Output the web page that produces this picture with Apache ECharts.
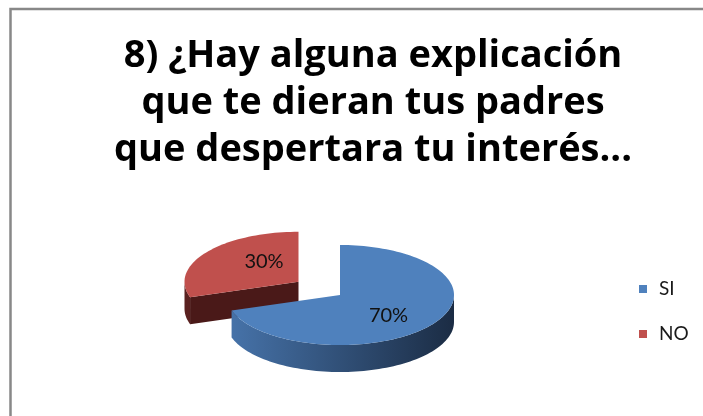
<!DOCTYPE html>
<html>
<head>
<meta charset="utf-8">
<script src="https://cdn.jsdelivr.net/npm/echarts@6/dist/echarts.min.js"></script>
<style>
html, body { margin: 0; padding: 0; background: #fff; }
#pie3d { width: 703px; height: 416px; }
</style>
</head>
<body>
<div id="pie3d"></div>
<script>
// answers and their shares (%)
var categories = ['SI', 'NO'];
var values = [70, 30];
var explode = [0, 0.45];

var topColors = ['#4f81bd', '#c0504d'];
var wallColors = [['#4774ab', '#1b2c44'], ['#5a2120', '#4a1918']];

var titleText = '8) ¿Hay alguna explicación\nque te dieran tus padres\nque despertara tu interés...';

// pseudo 3D disc geometry
var cx = 340, cy = 295, rx = 114, ry = 50, depth = 27;
var total = values.reduce(function (a, b) { return a + b; }, 0);

function rad(d) { return d * Math.PI / 180; }

function arc(c, a, b, dy) {
    var pts = [];
    for (var t = a; t < b; t += 2) {
        pts.push([c[0] + rx * Math.sin(rad(t)), c[1] - ry * Math.cos(rad(t)) + dy]);
    }
    pts.push([c[0] + rx * Math.sin(rad(b)), c[1] - ry * Math.cos(rad(b)) + dy]);
    return pts;
}

function renderSlice(i) {
    return function (params, api) {
        var before = 0;
        for (var k = 0; k < i; k++) before += values[k];
        var a = before / total * 360;
        var b = a + api.value(0) / total * 360;
        var mid = (a + b) / 2;
        var c = [cx + explode[i] * rx * Math.sin(rad(mid)), cy - explode[i] * ry * Math.cos(rad(mid))];
        var children = [];
        var wallFill = {
            type: 'linear', x: cx - rx, y: 0, x2: cx + rx, y2: 0, global: true,
            colorStops: [{ offset: 0, color: wallColors[i][0] }, { offset: 1, color: wallColors[i][1] }]
        };

        // cut faces turned towards the viewer
        [[a, a - 90], [b, b + 90]].forEach(function (f) {
            if (-Math.cos(rad(f[1])) > 0.01) {
                var e = [c[0] + rx * Math.sin(rad(f[0])), c[1] - ry * Math.cos(rad(f[0]))];
                children.push({
                    type: 'polygon',
                    shape: { points: [c, e, [e[0], e[1] + depth], [c[0], c[1] + depth]] },
                    style: { fill: wallColors[i][1] }
                });
            }
        });

        // front outer wall
        var wa = Math.max(a, 90), wb = Math.min(b, 270);
        if (wb > wa) {
            var pts = arc(c, wa, wb, 0).concat(arc(c, wa, wb, depth).reverse());
            children.push({ type: 'polygon', shape: { points: pts }, style: { fill: wallFill } });
        }

        // top face
        children.push({
            type: 'polygon',
            shape: { points: [c].concat(arc(c, a, b, 0)) },
            style: { fill: topColors[i] }
        });

        children.push({
            type: 'text',
            style: {
                x: c[0] + 0.45 * rx * Math.sin(rad(mid)) + 7,
                y: c[1] - 0.7 * ry * Math.cos(rad(mid)),
                text: Math.round(api.value(0) / total * 100) + '%',
                fill: '#111',
                font: '20px Lato',
                align: 'center',
                verticalAlign: 'middle'
            }
        });
        return { type: 'group', children: children };
    };
}

var series = categories.map(function (name, i) {
    return {
        type: 'custom',
        name: name,
        coordinateSystem: 'none',
        z: i === 0 ? 3 : 2,
        itemStyle: { color: topColors[i] },
        data: [[values[i]]],
        renderItem: renderSlice(i)
    };
});

var chart = echarts.init(document.getElementById('pie3d'));
chart.setOption({
    backgroundColor: '#fff',
    animation: false,
    title: {
        text: titleText,
        left: 368,
        top: 28,
        textAlign: 'center',
        textStyle: { fontFamily: 'Open Sans', fontWeight: 'bold', fontSize: 38, lineHeight: 47, color: '#000' }
    },
    legend: {
        orient: 'vertical',
        left: 634,
        top: 274,
        icon: 'rect',
        itemWidth: 8,
        itemHeight: 8,
        itemGap: 25,
        data: categories,
        textStyle: { fontFamily: 'Lato', fontSize: 19, lineHeight: 20, color: '#1a1a1a', padding: [0, 0, 0, 7] }
    },
    graphic: [{
        type: 'rect',
        silent: true,
        z: -1,
        shape: { x: 10.5, y: 9, width: 760, height: 460 },
        style: { fill: 'none', stroke: '#888', lineWidth: 2.5 }
    }],
    series: series
});
</script>
</body>
</html>
